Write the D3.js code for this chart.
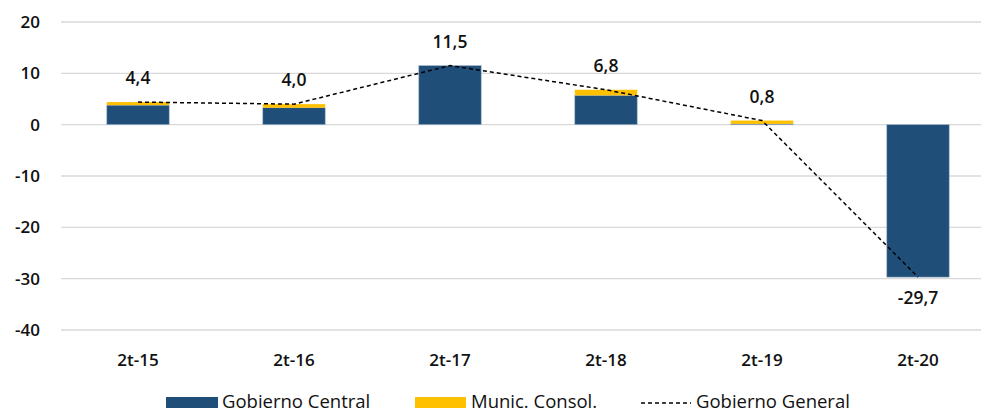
<!DOCTYPE html>
<html><head><meta charset="utf-8">
<script src="https://cdn.jsdelivr.net/npm/d3@7"></script>
<style>body{margin:0;background:#fff}svg{display:block;font-family:"Open Sans",sans-serif}</style>
</head><body><svg id="c" width="981" height="412"></svg>
<script>
const categories = ["2t-15","2t-16","2t-17","2t-18","2t-19","2t-20"];
const central = [3.8, 3.3, 11.5, 5.7, 0.15, -29.7];
const munic = [0.6, 0.7, 0.0, 1.1, 0.65, 0.0];
const general = [4.4, 4.0, 11.5, 6.8, 0.8, -29.7];
const generalLabels = ["4,4","4,0","11,5","6,8","0,8","-29,7"];
const yTicks = [20,10,0,-10,-20,-30,-40];

const svg = d3.select("#c");
const x = d3.scaleBand().domain(categories).range([60, 996]).paddingInner(0.6).paddingOuter(0.3);
const y = d3.scaleLinear().domain([-40, 20]).range([330, 22]);

// grid
svg.append("g").selectAll("line").data(yTicks).join("line")
  .attr("x1", 61).attr("x2", 981).attr("y1", d => y(d)).attr("y2", d => y(d))
  .attr("stroke", "#d9d9d9").attr("stroke-width", 1.3);

// y labels
svg.append("g").selectAll("text").data(yTicks).join("text")
  .attr("x", 40).attr("y", d => y(d)).attr("dy", "0.35em").attr("text-anchor", "end")
  .attr("font-size", 17).attr("font-weight", 600).attr("fill", "#111").text(d => d);

// x labels
svg.append("g").selectAll("text").data(categories).join("text")
  .attr("x", d => x(d) + x.bandwidth()/2).attr("y", 366)
  .attr("text-anchor", "middle").attr("font-size", 17).attr("font-weight", 600).attr("fill", "#111").text(d => d);

// bars
const bw = x.bandwidth();
svg.append("g").selectAll("rect").data(categories).join("rect")
  .attr("x", d => x(d)).attr("width", bw)
  .attr("y", (d,i) => y(Math.max(0, central[i])))
  .attr("height", (d,i) => Math.abs(y(central[i]) - y(0)))
  .attr("fill", "#1f4e79").attr("stroke", "#9fb3c8").attr("stroke-width", 0.6);
svg.append("g").selectAll("rect").data(categories).join("rect")
  .attr("x", d => x(d)).attr("width", bw)
  .attr("y", (d,i) => y(Math.max(0, central[i]) + munic[i]))
  .attr("height", (d,i) => Math.abs(y(munic[i]) - y(0)))
  .attr("fill", "#ffc000");

// line
const line = d3.line().x((d,i) => x(categories[i]) + bw/2).y(d => y(d));
svg.append("path").datum(general).attr("d", line).attr("fill", "none")
  .attr("stroke", "#000").attr("stroke-width", 1.5).attr("stroke-dasharray", "4,3");

// labels
svg.append("g").selectAll("text").data(general).join("text")
  .attr("x", (d,i) => x(categories[i]) + bw/2)
  .attr("y", d => d < 0 ? y(d) + 21 : y(d) - 24)
  .attr("dy", "0.35em").attr("text-anchor", "middle").attr("font-size", 17.5).attr("font-weight", 600)
  .attr("fill", "#111").text((d,i) => generalLabels[i]);

// legend
const lg = svg.append("g").attr("font-size", 18.5).attr("fill", "#111");
lg.append("rect").attr("x", 166).attr("y", 397).attr("width", 52).attr("height", 11).attr("fill", "#1f4e79");
lg.append("text").attr("x", 222).attr("y", 407.5).text("Gobierno Central");
lg.append("rect").attr("x", 415).attr("y", 397).attr("width", 51).attr("height", 11).attr("fill", "#ffc000");
lg.append("text").attr("x", 471).attr("y", 407.5).text("Munic. Consol.");
lg.append("line").attr("x1", 641).attr("x2", 691).attr("y1", 403).attr("y2", 403)
  .attr("stroke", "#000").attr("stroke-width", 1.5).attr("stroke-dasharray", "4,3");
lg.append("text").attr("x", 696).attr("y", 407.5).text("Gobierno General");
</script></body></html>
